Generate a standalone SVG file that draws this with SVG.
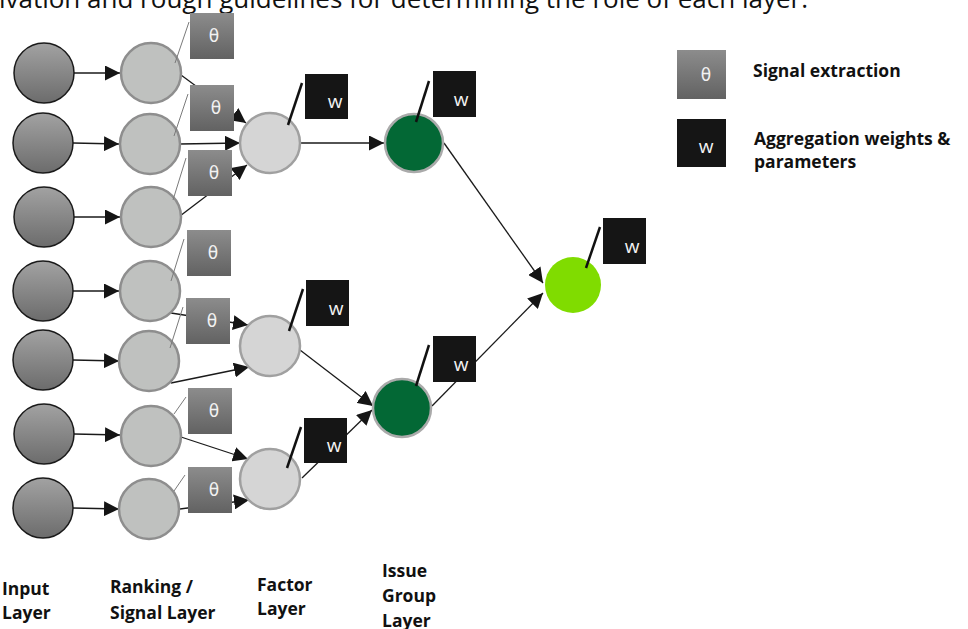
<svg xmlns="http://www.w3.org/2000/svg" width="968" height="629" viewBox="0 0 968 629">
<defs>
<linearGradient id="gIn" x1="0" y1="0" x2="0" y2="1"><stop offset="0" stop-color="#a2a2a2"/><stop offset="1" stop-color="#6c6c6c"/></linearGradient>
<linearGradient id="gTh" x1="0" y1="0" x2="0" y2="1"><stop offset="0" stop-color="#8c8c8c"/><stop offset="1" stop-color="#626262"/></linearGradient>
<marker id="ah" markerWidth="15" markerHeight="15" refX="15" refY="7.5" orient="auto" markerUnits="userSpaceOnUse"><path d="M0,0 L15,7.5 L0,15 z" fill="#151515"/></marker>
<style>
.in{fill:url(#gIn);stroke:#1a1a1a;stroke-width:1.5}
.rk{fill:#bfc1bf;stroke:#8e8e8e;stroke-width:2.5}
.fc{fill:#d5d5d5;stroke:#a0a0a0;stroke-width:2.5}
.ig{fill:#036835;stroke:#aaaaaa;stroke-width:2.5}
.out{fill:#80dc00}
.th{fill:url(#gTh)}
.wb{fill:#151515}
.tl{stroke:#7a7a7a;stroke-width:1}
.wl{stroke:#111;stroke-width:2.5}
.c{stroke:#1a1a1a;stroke-width:1.3;fill:none;marker-end:url(#ah)}
.tht{font-family:"DejaVu Sans",sans-serif;font-size:17px;fill:#f2f2f2;text-anchor:middle}
.wt{font-family:"Open Sans",sans-serif;font-size:19px;fill:#f2f2f2;text-anchor:middle}
.lab{font-family:"Open Sans",sans-serif;font-weight:bold;font-size:17.5px;fill:#111}
.leg{font-family:"Open Sans",sans-serif;font-weight:bold;font-size:17.5px;fill:#111}
.title{font-family:"Open Sans",sans-serif;font-size:26px;fill:#111;text-anchor:end}
</style>
</defs>
<rect width="968" height="629" fill="#ffffff"/>
<text class="title" x="808" y="8">Motivation and rough guidelines for determining the role of each layer.</text>

<g id="connectors">
<line class="c" x1="74" y1="73" x2="120" y2="73"/>
<line class="c" x1="73" y1="143" x2="119" y2="144"/>
<line class="c" x1="74" y1="217" x2="120" y2="217"/>
<line class="c" x1="73" y1="291" x2="119" y2="291"/>
<line class="c" x1="73" y1="360" x2="119" y2="361"/>
<line class="c" x1="74" y1="434" x2="120" y2="435"/>
<line class="c" x1="73" y1="508" x2="119" y2="509"/>
<line class="c" x1="181" y1="75" x2="246" y2="123"/>
<line class="c" x1="180" y1="144" x2="240" y2="143"/>
<line class="c" x1="180" y1="216" x2="247" y2="165"/>
<line class="c" x1="171" y1="313" x2="248" y2="325"/>
<line class="c" x1="171" y1="383" x2="249" y2="367"/>
<line class="c" x1="181" y1="437" x2="248" y2="459"/>
<line class="c" x1="180" y1="509" x2="249" y2="500"/>
<line class="c" x1="300" y1="143" x2="384" y2="143"/>
<line class="c" x1="300" y1="350" x2="373" y2="406"/>
<line class="c" x1="302" y1="478" x2="372" y2="410"/>
<line class="c" x1="444" y1="143" x2="543" y2="283"/>
<line class="c" x1="432" y1="406" x2="543" y2="293"/>
</g>

<g id="input1"><circle class="in" cx="44" cy="73" r="30"/></g>
<g id="input2"><circle class="in" cx="43" cy="143" r="30"/></g>
<g id="input3"><circle class="in" cx="44" cy="217" r="30"/></g>
<g id="input4"><circle class="in" cx="43" cy="291" r="30"/></g>
<g id="input5"><circle class="in" cx="43" cy="360" r="30"/></g>
<g id="input6"><circle class="in" cx="44" cy="434" r="30"/></g>
<g id="input7"><circle class="in" cx="43" cy="508" r="30"/></g>

<g id="rank1"><circle class="rk" cx="151" cy="73" r="30"/><line class="tl" x1="175" y1="63" x2="189" y2="22"/><rect class="th" x="190" y="13" width="44" height="46"/><text class="tht" x="214" y="42">θ</text></g>
<g id="rank2"><circle class="rk" cx="150" cy="144" r="30"/><line class="tl" x1="174" y1="136" x2="188" y2="94"/><rect class="th" x="190" y="85" width="44" height="46"/><text class="tht" x="216" y="114">θ</text></g>
<g id="rank3"><circle class="rk" cx="151" cy="217" r="30"/><line class="tl" x1="173" y1="200" x2="186" y2="158"/><rect class="th" x="188" y="150" width="44" height="46"/><text class="tht" x="214" y="179">θ</text></g>
<g id="rank4"><circle class="rk" cx="150" cy="291" r="30"/><line class="tl" x1="171" y1="281" x2="184" y2="239"/><rect class="th" x="187" y="230" width="44" height="46"/><text class="tht" x="213" y="259">θ</text></g>
<g id="rank5"><circle class="rk" cx="149" cy="361" r="30"/><line class="tl" x1="170" y1="348" x2="183" y2="307"/><rect class="th" x="186" y="298" width="44" height="46"/><text class="tht" x="212" y="327">θ</text></g>
<g id="rank6"><circle class="rk" cx="151" cy="436" r="30"/><line class="tl" x1="174" y1="414" x2="186" y2="397"/><rect class="th" x="188" y="388" width="44" height="46"/><text class="tht" x="214" y="417">θ</text></g>
<g id="rank7"><circle class="rk" cx="149" cy="509" r="30"/><line class="tl" x1="174" y1="491" x2="185" y2="475"/><rect class="th" x="188" y="467" width="44" height="46"/><text class="tht" x="214" y="496">θ</text></g>

<g id="factor1"><circle class="fc" cx="270" cy="143" r="30"/><rect class="wb" x="305" y="74" width="43" height="45"/><text class="wt" x="335" y="108">w</text><line class="wl" x1="288" y1="125" x2="302" y2="83"/></g>
<g id="factor2"><circle class="fc" cx="270" cy="346" r="30"/><rect class="wb" x="306" y="280" width="43" height="46"/><text class="wt" x="336" y="315">w</text><line class="wl" x1="289" y1="331" x2="303" y2="289"/></g>
<g id="factor3"><circle class="fc" cx="270" cy="479" r="30"/><rect class="wb" x="304" y="418" width="43" height="45"/><text class="wt" x="334" y="452">w</text><line class="wl" x1="287" y1="468" x2="301" y2="427"/></g>

<g id="issue1"><circle class="ig" cx="414" cy="143" r="29"/><rect class="wb" x="433" y="71" width="43" height="46"/><text class="wt" x="461" y="106">w</text><line class="wl" x1="416" y1="122" x2="429" y2="81"/></g>
<g id="issue2"><circle class="ig" cx="402" cy="408" r="29"/><rect class="wb" x="433" y="336" width="43" height="46"/><text class="wt" x="461" y="371">w</text><line class="wl" x1="416" y1="386" x2="429" y2="345"/></g>

<g id="output"><circle class="out" cx="573" cy="285" r="28"/><rect class="wb" x="603" y="218" width="43" height="46"/><text class="wt" x="632" y="253">w</text><line class="wl" x1="586" y1="268" x2="600" y2="227"/></g>

<g id="legend">
<rect class="th" x="677" y="50" width="49" height="49"/><text class="tht" x="706" y="81">θ</text>
<text class="leg" x="753" y="77">Signal extraction</text>
<rect class="wb" x="677" y="119" width="49" height="48"/><text class="wt" x="706" y="153">w</text>
<text class="leg" x="754" y="145">Aggregation weights &amp;</text>
<text class="leg" x="754" y="168">parameters</text>
</g>

<g id="labels">
<text class="lab" x="2" y="595">Input</text>
<text class="lab" x="2" y="619">Layer</text>
<text class="lab" x="110" y="593">Ranking /</text>
<text class="lab" x="110" y="619">Signal Layer</text>
<text class="lab" x="257" y="591">Factor</text>
<text class="lab" x="257" y="615">Layer</text>
<text class="lab" x="382" y="577">Issue</text>
<text class="lab" x="382" y="602">Group</text>
<text class="lab" x="382" y="627">Layer</text>
</g>
</svg>
